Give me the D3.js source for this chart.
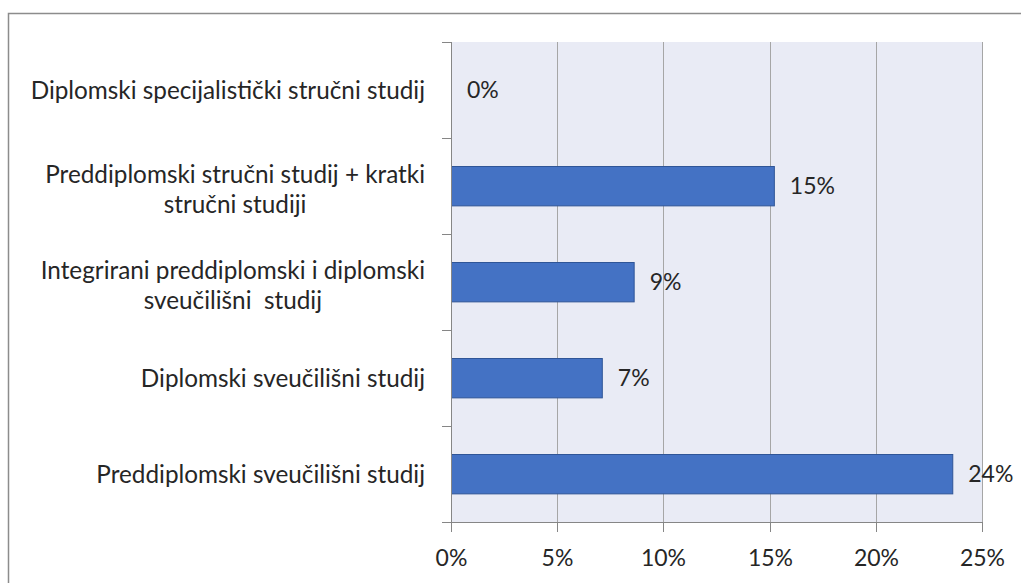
<!DOCTYPE html>
<html>
<head>
<meta charset="utf-8">
<script src="https://cdn.jsdelivr.net/npm/d3@7"></script>
<style>
  body { margin: 0; background: #fff; }
  svg text { font-family: Lato, "Liberation Sans", sans-serif; fill: #262626; }
</style>
</head>
<body>
<svg id="chart" width="1021" height="583"></svg>
<script>
// categories, top to bottom ("\n" = line break in label)
var categories = [
  "Diplomski specijalistički stručni studij",
  "Preddiplomski stručni studij + kratki\nstručni studiji",
  "Integrirani preddiplomski i diplomski\nsveučilišni  studij",
  "Diplomski sveučilišni studij",
  "Preddiplomski sveučilišni studij"
];
// share of students, percent
var values = [0, 15.2, 8.6, 7.1, 23.6];
var ticks = [0, 5, 10, 15, 20, 25];

var svg = d3.select("#chart");
var fontSize = 23, catFontSize = 24.3;

// plot area
var plotL = 451, plotR = 982, plotT = 42, plotB = 522;

// outer chart frame (runs off the right/bottom of the window)
svg.append("rect")
  .attr("x", 8.5).attr("y", 13.5)
  .attr("width", 1100).attr("height", 700)
  .attr("fill", "none")
  .attr("stroke", "#8c8c8c")
  .attr("stroke-width", 1.5);

var x = d3.scaleLinear().domain([0, 25]).range([plotL, plotR]);
var y = d3.scaleBand().domain(categories).range([plotT, plotB]).paddingInner(0.59).paddingOuter(0.295);

var rows = categories.map(function(c, i) { return { cat: c, v: values[i] }; });

// background
svg.append("rect")
  .attr("x", plotL).attr("y", plotT)
  .attr("width", plotR - plotL).attr("height", plotB - plotT)
  .attr("fill", "#e9ebf5");

// vertical gridlines
svg.append("g").selectAll("line")
  .data(ticks.slice(1))
  .enter().append("line")
  .attr("x1", function(d) { return Math.round(x(d)) + 0.5; })
  .attr("x2", function(d) { return Math.round(x(d)) + 0.5; })
  .attr("y1", plotT).attr("y2", plotB)
  .attr("stroke", "#a6a6a6");

// bars
svg.append("g").selectAll("rect")
  .data(rows.filter(function(d) { return d.v > 0; }))
  .enter().append("rect")
  .attr("x", plotL + 0.5)
  .attr("y", function(d) { return Math.round(y(d.cat)) + 0.5; })
  .attr("width", function(d) { return x(d.v) - plotL; })
  .attr("height", y.bandwidth())
  .attr("fill", "#4472c4")
  .attr("stroke", "#2f5597")
  .attr("stroke-width", 1);

// value labels
svg.append("g").selectAll("text")
  .data(rows)
  .enter().append("text")
  .attr("x", function(d) { return x(d.v) + 16; })
  .attr("y", function(d) { return y(d.cat) + y.bandwidth() / 2; })
  .attr("dy", "0.35em")
  .attr("font-size", fontSize)
  .text(function(d) { return Math.round(d.v) + "%"; });

// axes (lines + tick marks)
var axisColor = "#868686";
svg.append("line")
  .attr("x1", plotL + 0.5).attr("x2", plotL + 0.5)
  .attr("y1", plotT).attr("y2", plotB)
  .attr("stroke", axisColor);
svg.append("line")
  .attr("x1", plotL - 9).attr("x2", plotR + 0.5)
  .attr("y1", plotB + 0.5).attr("y2", plotB + 0.5)
  .attr("stroke", axisColor);

// y ticks at band boundaries
var step = (plotB - plotT) / categories.length;
svg.append("g").selectAll("line")
  .data(d3.range(categories.length))
  .enter().append("line")
  .attr("x1", plotL - 9).attr("x2", plotL)
  .attr("y1", function(i) { return Math.round(plotT + i * step) + 0.5; })
  .attr("y2", function(i) { return Math.round(plotT + i * step) + 0.5; })
  .attr("stroke", axisColor);

// x ticks + labels
var xt = svg.append("g").selectAll("g")
  .data(ticks)
  .enter().append("g")
  .attr("transform", function(d) { return "translate(" + (Math.round(x(d)) + 0.5) + ",0)"; });
xt.append("line")
  .attr("y1", plotB).attr("y2", plotB + 10)
  .attr("stroke", axisColor);
xt.append("text")
  .attr("y", 558)
  .attr("dy", "0.35em")
  .attr("text-anchor", "middle")
  .attr("font-size", fontSize)
  .text(function(d) { return d + "%"; });

// category labels: block right-aligned, lines centred within the block
var labelRight = 425, lineH = 30;
categories.forEach(function(c) {
  var lines = c.split("\n");
  var g = svg.append("g");
  var texts = lines.map(function(l) {
    return g.append("text")
      .attr("font-size", catFontSize)
      .attr("text-anchor", "middle")
      .style("white-space", "pre")
      .text(l);
  });
  var maxW = d3.max(texts, function(t) { return t.node().getComputedTextLength(); });
  var cy = y(c) + y.bandwidth() / 2 + (lines.length > 1 ? 3 : 0);
  texts.forEach(function(t, i) {
    t.attr("x", labelRight - maxW / 2)
      .attr("y", cy + (i - (lines.length - 1) / 2) * lineH)
      .attr("dy", "0.35em");
  });
});
</script>
</body>
</html>
